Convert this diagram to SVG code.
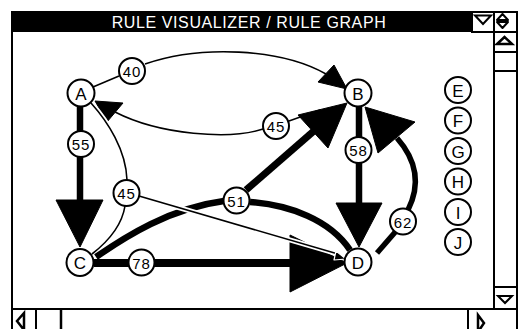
<svg xmlns="http://www.w3.org/2000/svg" width="518" height="329" viewBox="0 0 518 329">
<style>
.frame{fill:none;stroke:#000;stroke-width:2}
.btn{fill:#fff;stroke:#000;stroke-width:2}
.node circle{fill:#fff;stroke:#000;stroke-width:2}
.node text{font-family:"Liberation Sans",Arial,sans-serif;font-size:17px;text-anchor:middle;fill:#000}
.lab circle{fill:#fff;stroke:#000;stroke-width:2}
.lab text{font-family:"Liberation Sans",Arial,sans-serif;font-size:15px;letter-spacing:1px;text-anchor:middle;fill:#000}
.thin{fill:none;stroke:#000;stroke-width:1.6}
.halo{fill:none;stroke:#fff;stroke-width:5}
.thick{fill:none;stroke:#000}
.head{fill:#000;stroke:#000;stroke-width:1;stroke-linejoin:round}
.title{font-family:"Liberation Sans",Arial,sans-serif;font-size:16px;letter-spacing:0.6px;fill:#fff;text-anchor:middle}
</style>
<rect x="0" y="0" width="518" height="329" fill="#fff"/>
<g id="window">
<rect x="12" y="12" width="505" height="330" class="frame"/>
<rect x="12" y="12" width="460" height="20" fill="#000"/>
<text x="249" y="28" class="title">RULE VISUALIZER / RULE GRAPH</text>
<rect x="472" y="12" width="22" height="20" class="btn"/>
<polygon points="475,15.5 491,15.5 483,24" fill="#fff" stroke="#000" stroke-width="2"/>
<rect x="494" y="12" width="23" height="20" class="btn"/>
<path d="M497,20 L502.5,14 L508,20 Z M497,22 L508,22 L502.5,28 Z" fill="#fff" stroke="#000" stroke-width="2" stroke-linejoin="round"/>
<line x1="494" y1="32" x2="494" y2="309" class="frame"/>
<line x1="494" y1="52" x2="517" y2="52" class="frame"/>
<line x1="494" y1="71" x2="517" y2="71" class="frame"/>
<polygon points="497,44 512,44 504.5,37" fill="#fff" stroke="#000" stroke-width="2.5"/>
<line x1="494" y1="287" x2="517" y2="287" class="frame"/>
<polygon points="498,296 512,296 505,303" fill="#fff" stroke="#000" stroke-width="2"/>
<line x1="12" y1="309" x2="517" y2="309" class="frame"/>
<line x1="36" y1="309" x2="36" y2="329" class="frame"/>
<line x1="61" y1="309" x2="61" y2="329" stroke="#000" stroke-width="2.5"/>
<line x1="468" y1="309" x2="468" y2="329" class="frame"/>
<polygon points="24,313 24,330 17,321" fill="#fff" stroke="#000" stroke-width="2.5"/>
<polygon points="478,315 478,332 484,323" fill="#fff" stroke="#000" stroke-width="2.5"/>
</g>
<g id="connectors">
<!-- A -> B via 40 -->
<line x1="93" y1="87" x2="119" y2="76" class="thin"/>
<path d="M145,64 C200,45 280,48 326,74" class="thin"/>
<polygon points="318,82 334,65 347,89" class="head"/>
<!-- B -> A via 45 -->
<line x1="289" y1="121" x2="320" y2="110" class="thin"/>
<path d="M263,129 C230,140 160,135 115,112" class="thin"/>
<polygon points="107,122 123,103 95,101" class="head"/>
<!-- A -> 45 -> C -->
<path d="M91,103 C108,122 126,150 127,180" class="halo"/>
<path d="M91,103 C108,122 126,150 127,180" class="thin"/>
<path d="M125,206 C122,225 110,240 92,254" class="thin"/>
<!-- A -> C via 55 -->
<line x1="80" y1="106" x2="80" y2="202" class="thick" stroke-width="6.5"/>
<polygon points="56,200 103,200 80,247" class="head"/>
<!-- B -> D via 58 -->
<line x1="359" y1="106" x2="359" y2="205" class="thick" stroke-width="6.5"/>
<polygon points="336,203 382,203 359,247" class="head"/>
<!-- C -> 51 -> D curve -->
<path d="M96,257 C125,237 170,208 224,201" class="thick" stroke-width="6.5"/>
<path d="M250,202 C290,205 330,220 350,250" class="thick" stroke-width="6.5"/>
<!-- 51 -> B -->
<line x1="246" y1="190" x2="315" y2="130" class="thick" stroke-width="7"/>
<polygon points="298,115 328,148 347,103" class="head"/>
<!-- C -> D via 78 -->
<line x1="94" y1="263" x2="292" y2="263" class="thick" stroke-width="8"/>
<polygon points="290,235 290,292 347,263" class="head"/>
<!-- 45 -> D thin -->
<line x1="139" y1="196" x2="338" y2="254" class="halo" stroke-width="4"/>
<line x1="139" y1="196" x2="338" y2="254" class="thin"/>
<polygon points="336,251 334,260 346,259" fill="#000" stroke="#fff" stroke-width="1.2" stroke-linejoin="round"/>
<!-- D -> B via 62 -->
<line x1="377" y1="253" x2="397" y2="230" class="thick" stroke-width="5.5"/>
<path d="M408,210 Q427,172 397,138" class="thick" stroke-width="5.5"/>
<polygon points="378,153 415,122 365,107" class="head"/>
</g>
<g id="label-40" class="lab"><circle cx="132" cy="71" r="13"/><text x="132" y="77">40</text></g>
<g id="label-45a" class="lab"><circle cx="276" cy="126" r="13"/><text x="276" y="132">45</text></g>
<g id="label-55" class="lab"><circle cx="81" cy="144" r="13"/><text x="81" y="150">55</text></g>
<g id="label-45b" class="lab"><circle cx="126.5" cy="193" r="13"/><text x="126.5" y="199">45</text></g>
<g id="label-51" class="lab"><circle cx="236.5" cy="200.5" r="13"/><text x="236.5" y="206.5">51</text></g>
<g id="label-58" class="lab"><circle cx="358.5" cy="150" r="13"/><text x="358.5" y="156">58</text></g>
<g id="label-62" class="lab"><circle cx="403" cy="221.5" r="13"/><text x="403" y="227.5">62</text></g>
<g id="label-78" class="lab"><circle cx="141.5" cy="262.5" r="13"/><text x="141.5" y="268.5">78</text></g>
<g id="node-A" class="node"><circle cx="81" cy="93" r="13.5"/><text x="81" y="99.5">A</text></g>
<g id="node-B" class="node"><circle cx="358" cy="93" r="13.5"/><text x="358" y="99.5">B</text></g>
<g id="node-C" class="node"><circle cx="80" cy="262.5" r="13.5"/><text x="80" y="269">C</text></g>
<g id="node-D" class="node"><circle cx="358" cy="262" r="13.5"/><text x="358" y="268.5">D</text></g>
<g id="node-E" class="node"><circle cx="458" cy="90" r="13"/><text x="458" y="96.5">E</text></g>
<g id="node-F" class="node"><circle cx="458" cy="120.5" r="13"/><text x="458" y="127">F</text></g>
<g id="node-G" class="node"><circle cx="458" cy="151" r="13"/><text x="458" y="157.5">G</text></g>
<g id="node-H" class="node"><circle cx="458" cy="181.5" r="13"/><text x="458" y="188">H</text></g>
<g id="node-I" class="node"><circle cx="458" cy="212" r="13"/><text x="458" y="218.5">I</text></g>
<g id="node-J" class="node"><circle cx="458" cy="242" r="13"/><text x="458" y="248.5">J</text></g>
</svg>
